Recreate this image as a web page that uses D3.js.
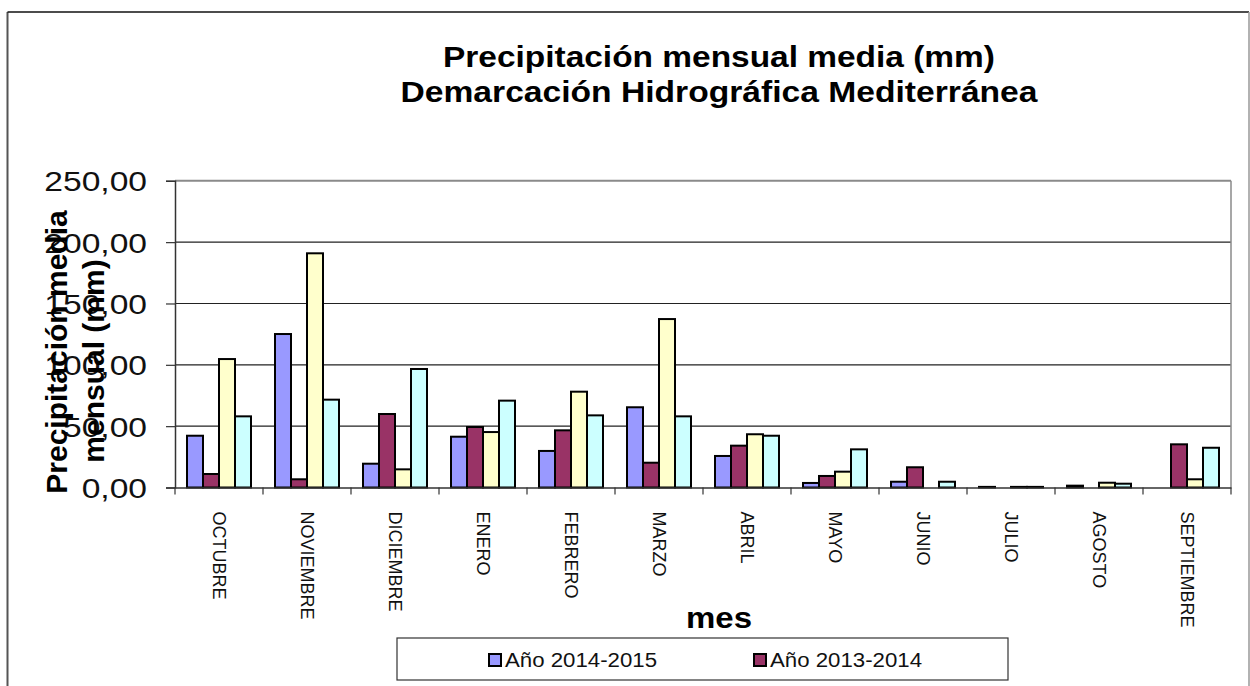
<!DOCTYPE html>
<html>
<head>
<meta charset="utf-8">
<script src="https://cdn.jsdelivr.net/npm/d3@7"></script>
<style>
  html, body { margin: 0; padding: 0; background: #fff; }
  svg { display: block; font-family: "Liberation Sans", Arial, sans-serif; }
</style>
</head>
<body>
<svg id="chart" width="1250" height="686"></svg>
<script>
const months = ["OCTUBRE","NOVIEMBRE","DICIEMBRE","ENERO","FEBRERO","MARZO","ABRIL","MAYO","JUNIO","JULIO","AGOSTO","SEPTIEMBRE"];
const seriesNames = ["Año 2014-2015","Año 2013-2014","Serie 3","Serie 4"];
const legendNames = ["Año 2014-2015","Año 2013-2014"];
const s2014_2015 = [42.2, 125.1, 19.4, 41.4, 29.8, 65.4, 25.7, 3.7, 4.7, 0.5, 1.5, 0];
const s2013_2014 = [11.0, 6.7, 59.9, 49.3, 46.6, 20.2, 34.1, 9.4, 16.5, 0, 0, 35.2];
const serie3 = [104.7, 190.9, 14.8, 45.2, 78.1, 137.3, 43.4, 12.9, 0, 0.5, 3.9, 6.7];
const serie4 = [58.0, 71.6, 96.6, 70.8, 58.8, 58.0, 42.2, 31.1, 4.7, 0.5, 3.1, 32.4];
const yTicks = [0, 50, 100, 150, 200, 250];
const colors = ["#9999FF", "#993366", "#FFFFCC", "#CCFFFF"];
const titleLines = ["Precipitación mensual media (mm)", "Demarcación Hidrográfica Mediterránea"];
const yTitleLines = ["Precipitación media", "mensual (mm)"];
const xTitle = "mes";

const seriesValues = [s2014_2015, s2013_2014, serie3, serie4];

const svg = d3.select("#chart");
const plot = { left: 175, right: 1231, top: 180.8, bottom: 487.5 };

// outer chart border
svg.append("line").attr("x1", 7.5).attr("x2", 7.5).attr("y1", 12).attr("y2", 686)
  .attr("stroke", "#555").attr("stroke-width", 2);
svg.append("line").attr("x1", 7.5).attr("x2", 1249).attr("y1", 12).attr("y2", 12)
  .attr("stroke", "#111").attr("stroke-width", 1.5);
svg.append("line").attr("x1", 1249).attr("x2", 1249).attr("y1", 12).attr("y2", 686)
  .attr("stroke", "#999").attr("stroke-width", 1.5);

const x = d3.scaleBand().domain(months).range([plot.left, plot.right]).paddingInner(0).paddingOuter(0);
const xs = d3.scaleBand().domain(d3.range(seriesNames.length)).range([0, x.bandwidth()]).paddingInner(0).paddingOuter(0.75);
const y = d3.scaleLinear().domain([0, 250]).range([plot.bottom, plot.top]);

// gridlines
svg.append("g").selectAll("line").data(yTicks.filter(d => d > 0)).join("line")
  .attr("x1", plot.left).attr("x2", plot.right)
  .attr("y1", d => y(d)).attr("y2", d => y(d))
  .attr("stroke", d => d === 250 ? "#8a8a8a" : "#222")
  .attr("stroke-width", d => d === 250 ? 2 : 1.2);
// right plot border
svg.append("line").attr("x1", plot.right).attr("x2", plot.right).attr("y1", plot.top).attr("y2", plot.bottom)
  .attr("stroke", "#8a8a8a").attr("stroke-width", 1.5);

// bars
const barData = [];
months.forEach((m, i) => {
  seriesValues.forEach((vals, s) => barData.push({ m, s, v: vals[i] }));
});
svg.append("g").selectAll("rect").data(barData).join("rect")
  .attr("x", d => x(d.m) + xs(d.s))
  .attr("y", d => y(d.v))
  .attr("width", xs.bandwidth())
  .attr("height", d => y(0) - y(d.v))
  .attr("fill", d => colors[d.s])
  .attr("stroke", "#000")
  .attr("stroke-width", 2);

// y axis
const yAxis = svg.append("g").attr("transform", `translate(${plot.left},0)`)
  .call(d3.axisLeft(y).tickValues(yTicks).tickSize(9)
    .tickFormat(d => d3.format(".2f")(d).replace(".", ",")));
yAxis.select(".domain").attr("stroke", "#333").attr("stroke-width", 1.5);
yAxis.selectAll(".tick line").attr("stroke", "#333").attr("stroke-width", 1.2);
yAxis.selectAll(".tick text")
  .attr("font-size", 28)
  .attr("font-family", "Liberation Sans, Arial, sans-serif")
  .attr("fill", "#111")
  .attr("x", -28 / 1.2)
  .attr("dy", "0.36em")
  .attr("transform", "scale(1.2,1)");

// x axis
const xAxis = svg.append("g").attr("transform", `translate(0,${plot.bottom})`)
  .call(d3.axisBottom(x).tickSize(0));
xAxis.select(".domain").attr("stroke", "#333").attr("stroke-width", 1.5);
xAxis.selectAll(".tick text")
  .attr("font-size", 18)
  .attr("font-family", "Liberation Sans, Arial, sans-serif")
  .attr("fill", "#111")
  .attr("transform", "rotate(90)")
  .attr("x", 24).attr("y", 0).attr("dy", "0.35em")
  .style("text-anchor", "start");
const boundaries = months.map(m => x(m)).concat([x.range()[1]]);
svg.append("g").selectAll("line").data(boundaries).join("line")
  .attr("x1", d => d).attr("x2", d => d)
  .attr("y1", plot.bottom).attr("y2", plot.bottom + 7)
  .attr("stroke", "#333").attr("stroke-width", 1.2);

// title
const titleBase = [67, 102];
const titleLen = [552, 637];
titleLines.forEach((t, i) => {
  svg.append("text").text(t)
    .attr("x", 719).attr("y", titleBase[i])
    .attr("text-anchor", "middle")
    .attr("font-size", 29).attr("font-weight", "bold")
    .attr("textLength", titleLen[i]).attr("lengthAdjust", "spacingAndGlyphs")
    .attr("fill", "#000");
});

// y title
const yTitleX = [67, 104];
const yTitleCY = [352, 361];
yTitleLines.forEach((t, i) => {
  svg.append("text").text(t)
    .attr("transform", `translate(${yTitleX[i]},${yTitleCY[i]}) rotate(-90)`)
    .attr("text-anchor", "middle")
    .attr("font-size", 30).attr("font-weight", "bold")
    .attr("fill", "#000");
});

// x title
svg.append("text").text(xTitle)
  .attr("x", 719).attr("y", 628)
  .attr("text-anchor", "middle")
  .attr("font-size", 30).attr("font-weight", "bold")
  .attr("textLength", 66).attr("lengthAdjust", "spacingAndGlyphs")
  .attr("fill", "#000");

// legend
svg.append("rect").attr("x", 397).attr("y", 638).attr("width", 611).attr("height", 42)
  .attr("fill", "#fff").attr("stroke", "#333").attr("stroke-width", 1.2);
const legendX = [489, 754];
legendNames.forEach((name, i) => {
  svg.append("rect").attr("x", legendX[i]).attr("y", 654).attr("width", 12).attr("height", 12)
    .attr("fill", colors[i]).attr("stroke", "#000").attr("stroke-width", 2);
  svg.append("text").text(name)
    .attr("x", legendX[i] + 16).attr("y", 667)
    .attr("font-size", 20)
    .attr("textLength", 152).attr("lengthAdjust", "spacingAndGlyphs")
    .attr("fill", "#111");
});
</script>
</body>
</html>
